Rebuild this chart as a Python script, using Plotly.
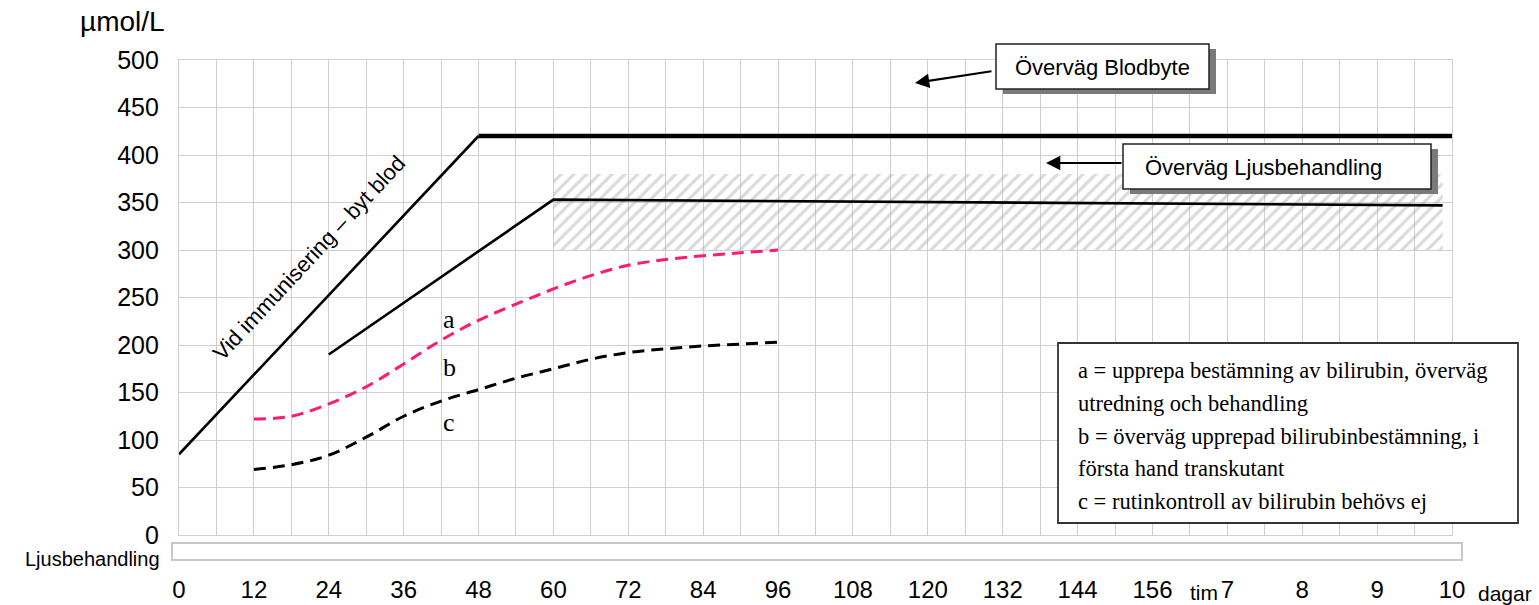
import plotly.graph_objects as go

# ---------------- data ----------------
# x positions: hours 0..156, then days 7..10 placed every 12 units (168..204)
tick_vals = list(range(0, 205, 12))
tick_text = ["0", "12", "24", "36", "48", "60", "72", "84", "96", "108", "120",
             "132", "144", "156", "7", "8", "9", "10"]
y_ticks = [0, 50, 100, 150, 200, 250, 300, 350, 400, 450, 500]

# "Vid immunisering – byt blod" limit
blod_x = [0, 48, 204]
blod_y = [85, 420, 420]

# phototherapy limit
ljus_x = [24, 60, 202.5]
ljus_y = [190, 353, 347]

# hatched zone
zone_x = [60, 202.5]
zone_y = [300, 380]

# curve a (pink dashed)
a_x = [12, 18, 24, 30, 36, 42, 48, 54, 60, 66, 72, 78, 84, 90, 96]
a_y = [122, 125, 138, 156, 180, 205, 226, 243, 259, 273, 284, 290, 294, 297, 300]

# curve c (black dashed)
c_x = [12, 18, 24, 30, 36, 42, 48, 54, 60, 66, 72, 78, 84, 90, 96]
c_y = [69, 74, 84, 103, 125, 141, 153, 165, 175, 185, 192, 196, 199, 201, 203]

legend_lines = [
    "a = upprepa bestämning av bilirubin, överväg",
    "utredning och behandling",
    "b = överväg upprepad bilirubinbestämning, i",
    "första hand transkutant",
    "c = rutinkontroll av bilirubin behövs ej",
]

# ---------------- layout geometry ----------------
W, H = 1539, 605
ML, MR, MT, MB = 179, 87, 60, 70
PW, PH = W - ML - MR, H - MT - MB


def px(xpix):
    return (xpix - ML) / PW


def py(ypix):
    return (H - MB - ypix) / PH


SANS = "Liberation Sans, Arial, sans-serif"
NARROW = "Liberation Sans Narrow, Arial Narrow, Liberation Sans, sans-serif"
SERIF = "Liberation Serif, Times New Roman, serif"

fig = go.Figure()

# hatched zone
fig.add_trace(go.Scatter(
    x=[zone_x[0], zone_x[1], zone_x[1], zone_x[0], zone_x[0]],
    y=[zone_y[0], zone_y[0], zone_y[1], zone_y[1], zone_y[0]],
    mode="lines", fill="toself", line=dict(width=0, color="rgba(0,0,0,0)"),
    fillcolor="rgba(0,0,0,0)",
    fillpattern=dict(shape="/", fgcolor="#b5b5b5", bgcolor="rgba(0,0,0,0)",
                     size=9, solidity=0.35),
    hoverinfo="skip", showlegend=False))

# blood-exchange limit: diagonal part and thick plateau
fig.add_trace(go.Scatter(x=blod_x[:2], y=blod_y[:2], mode="lines",
                         line=dict(color="black", width=2.6), showlegend=False))
fig.add_trace(go.Scatter(x=blod_x[1:], y=blod_y[1:], mode="lines",
                         line=dict(color="black", width=4.5), showlegend=False))

# phototherapy limit
fig.add_trace(go.Scatter(x=ljus_x, y=ljus_y, mode="lines",
                         line=dict(color="black", width=2.6), showlegend=False))

# a and c curves
fig.add_trace(go.Scatter(x=a_x, y=a_y, mode="lines",
                         line=dict(color="#ff1a72", width=3, dash="12px,7px", shape="spline"),
                         showlegend=False))
fig.add_trace(go.Scatter(x=c_x, y=c_y, mode="lines",
                         line=dict(color="black", width=3, dash="12px,7px", shape="spline"),
                         showlegend=False))

shapes = []
# Ljusbehandling bar
shapes.append(dict(type="rect", xref="paper", yref="paper",
                   x0=px(172), x1=px(1462), y0=py(560), y1=py(543),
                   line=dict(color="#c8c8c8", width=2), fillcolor="white", layer="above"))
# Box 1 (Överväg Blodbyte) shadow + box
shapes.append(dict(type="rect", xref="paper", yref="paper",
                   x0=px(1003), x1=px(1216), y0=py(94), y1=py(49),
                   line=dict(width=0), fillcolor="#7a7a7a", layer="above"))
shapes.append(dict(type="rect", xref="paper", yref="paper",
                   x0=px(996), x1=px(1209), y0=py(89), y1=py(44),
                   line=dict(color="#222222", width=1.5), fillcolor="white", layer="above"))
# Box 2 (Överväg Ljusbehandling) shadow + box
shapes.append(dict(type="rect", xref="paper", yref="paper",
                   x0=px(1130), x1=px(1438), y0=py(194), y1=py(149),
                   line=dict(width=0), fillcolor="#7a7a7a", layer="above"))
shapes.append(dict(type="rect", xref="paper", yref="paper",
                   x0=px(1123), x1=px(1431), y0=py(189), y1=py(144),
                   line=dict(color="#222222", width=1.5), fillcolor="white", layer="above"))
# Legend box
shapes.append(dict(type="rect", xref="paper", yref="paper",
                   x0=px(1058), x1=px(1518), y0=py(523), y1=py(343),
                   line=dict(color="#333333", width=1.8), fillcolor="white", layer="above"))

annotations = []


def note(text, x, y, size, family=SANS, xanchor="center", xref="paper", yref="paper", **kw):
    annotations.append(dict(text=text, xref=xref, yref=yref, x=x, y=y,
                            xanchor=xanchor, yanchor="middle", showarrow=False,
                            font=dict(family=family, size=size, color="black"), **kw))


note("µmol/L", px(122), py(21), 28)
note("Ljusbehandling", px(162), py(559), 20, family=NARROW, xanchor="right")
note("tim", px(1204), py(592), 21, family=NARROW)
note("dagar", px(1505), py(593), 21)
note("Vid immunisering – byt blod", 20.9, 292, 22, xref="x", yref="y", textangle=-47)
for lab, yy in zip(["a", "b", "c"], [227, 176, 118]):
    note(lab, 43.3, yy, 26, family=SERIF, xref="x", yref="y")
note("Överväg Blodbyte", px(1102), py(67), 22)
note("Överväg Ljusbehandling", px(1263), py(167), 22)
for line, yy in zip(legend_lines, [370, 403, 436, 468, 501]):
    note(line, px(1076), py(yy), 22.5, family=SERIF, xanchor="left")

# arrows
annotations.append(dict(text="", xref="paper", yref="paper", x=px(915), y=py(83),
                        ax=78, ay=-12, showarrow=True, arrowhead=2, arrowsize=1.3,
                        arrowwidth=2.2, arrowcolor="black", standoff=0))
annotations.append(dict(text="", xref="paper", yref="paper", x=px(1046), y=py(163),
                        ax=77, ay=0, showarrow=True, arrowhead=2, arrowsize=1.3,
                        arrowwidth=2.2, arrowcolor="black", standoff=0))

grid_vals = list(range(0, 205, 6))
grid_text = [tick_text[v // 12] if v % 12 == 0 else "" for v in grid_vals]

fig.update_layout(
    width=W, height=H,
    margin=dict(l=ML, r=MR, t=MT, b=MB, autoexpand=False),
    paper_bgcolor="white", plot_bgcolor="white",
    showlegend=False,
    shapes=shapes, annotations=annotations,
    xaxis=dict(range=[0, 204], tickmode="array", tickvals=grid_vals, ticktext=grid_text,
               showgrid=True, gridcolor="#cfcfcf", gridwidth=1.3, zeroline=False,
               showline=True, mirror=True, linecolor="#cfcfcf", linewidth=1.3,
               ticks="", ticklabelstandoff=33, automargin=False,
               tickfont=dict(family=NARROW, size=24, color="black")),
    yaxis=dict(range=[0, 500], tickmode="array", tickvals=y_ticks,
               showgrid=True, gridcolor="#cfcfcf", gridwidth=1.3, zeroline=False,
               showline=True, mirror=True, linecolor="#cfcfcf", linewidth=1.3,
               ticks="", ticklabelstandoff=14, automargin=False,
               tickfont=dict(family=SANS, size=25, color="black")),
)

fig.write_html("out.html", config={"displayModeBar": False},
               post_script="document.body.style.margin='0';")
